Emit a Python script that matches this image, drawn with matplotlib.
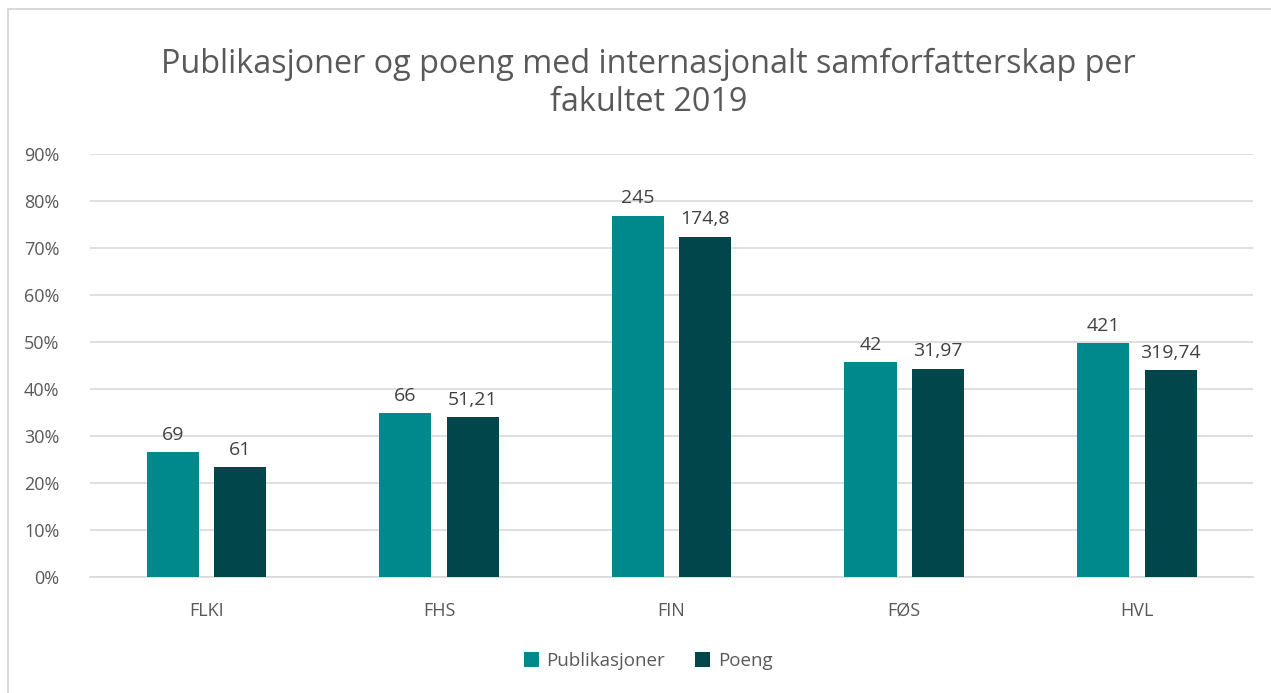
import matplotlib.pyplot as plt
import numpy as np
from matplotlib.patches import Rectangle
from matplotlib.ticker import PercentFormatter

plt.rcParams['font.family'] = ['Open Sans', 'DejaVu Sans']

# Andel med internasjonalt samforfatterskap per fakultet, 2019
fakulteter = ["FLKI", "FHS", "FIN", "FØS", "HVL"]
andel_publikasjoner = [0.265, 0.348, 0.769, 0.457, 0.497]
andel_poeng = [0.234, 0.340, 0.724, 0.443, 0.440]

# Antall som står over søylene
antall_publikasjoner = ["69", "66", "245", "42", "421"]
antall_poeng = ["61", "51,21", "174,8", "31,97", "319,74"]

tekst_farge = "#595959"
farge_pub = "#00898C"
farge_poeng = "#00464A"

fig = plt.figure(figsize=(12.71, 6.93), dpi=100)
ax = fig.add_axes([0.0708, 0.1674, 0.9152, 0.6104])

# lys ramme rundt diagrammet (bare venstre og øvre kant er synlig)
fig.patches.append(Rectangle((8 / 1271, -0.1), 1.1, 1.1 - 9 / 693, transform=fig.transFigure,
                             fill=False, edgecolor="#D9D9D9", linewidth=1.5))

x = np.arange(len(fakulteter))
bredde = 0.224
forskyvning = 0.145

s1 = ax.bar(x - forskyvning, andel_publikasjoner, bredde, color=farge_pub, label="Publikasjoner", zorder=3)
s2 = ax.bar(x + forskyvning, andel_poeng, bredde, color=farge_poeng, label="Poeng", zorder=3)

ax.bar_label(s1, labels=antall_publikasjoner, padding=6, fontsize=14, color="#404040")
ax.bar_label(s2, labels=antall_poeng, padding=6, fontsize=14, color="#404040")

ax.set_xlim(-0.5, len(fakulteter) - 0.5)
ax.set_ylim(0, 0.9)
ax.set_yticks(np.arange(0, 0.91, 0.1))
ax.yaxis.set_major_formatter(PercentFormatter(1.0, decimals=0))
ax.set_xticks(x)
ax.set_xticklabels(fakulteter)

ax.grid(axis="y", color="#D9D9D9", linewidth=1.2, zorder=0)
for side in ["top", "right", "left"]:
    ax.spines[side].set_visible(False)
ax.spines["bottom"].set_color("#D9D9D9")
ax.spines["bottom"].set_linewidth(1.2)
ax.tick_params(axis="both", length=0, labelsize=13, labelcolor=tekst_farge)
ax.tick_params(axis="x", pad=18)
ax.tick_params(axis="y", pad=22)

fig.text(0.51, 0.88, "Publikasjoner og poeng med internasjonalt samforfatterskap per\nfakultet 2019",
         ha="center", va="center", fontsize=23.3, color=tekst_farge, linespacing=1.2)

fig.legend(handles=[s1, s2], loc="center", bbox_to_anchor=(0.51, 0.046), ncol=2, frameon=False,
           fontsize=13.5, labelcolor=tekst_farge, handlelength=0.8, handleheight=0.8,
           handletextpad=0.4, columnspacing=1.6)

fig.savefig("out.png", dpi=100)
